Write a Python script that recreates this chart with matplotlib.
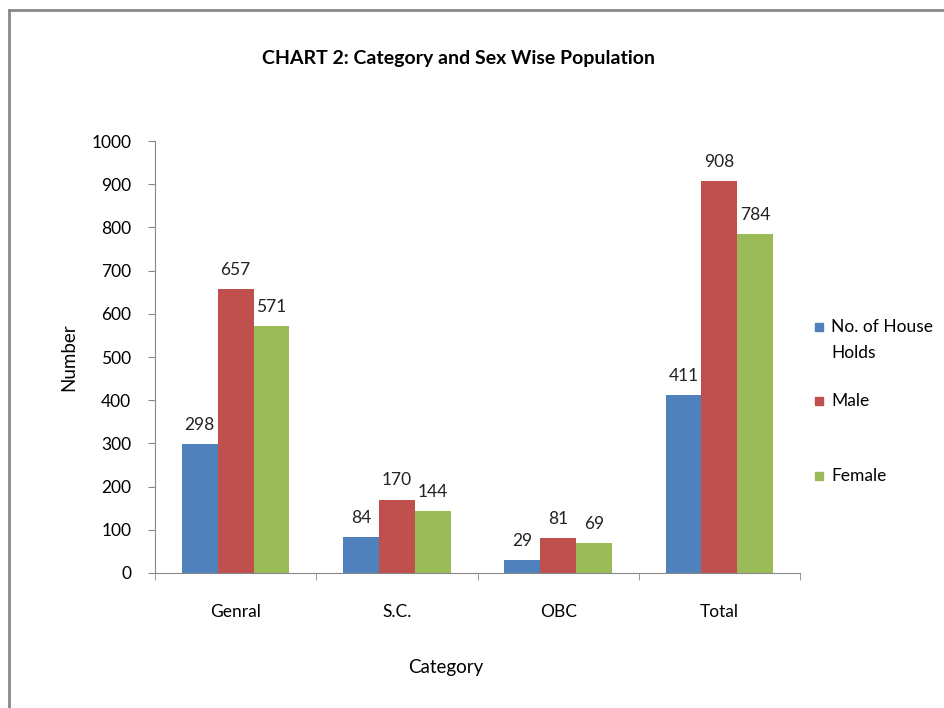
import matplotlib.pyplot as plt
import numpy as np
from matplotlib.lines import Line2D
from matplotlib.patches import Rectangle

categories = ["Genral", "S.C.", "OBC", "Total"]
households = [298, 84, 29, 411]
male = [657, 170, 81, 908]
female = [571, 144, 69, 784]

series = [
    ("No. of House\nHolds", households, "#4f81bd"),
    ("Male", male, "#c0504d"),
    ("Female", female, "#9bbb59"),
]

plt.rcParams["font.family"] = ["Lato", "DejaVu Sans"]

W, H = 945, 708
fig = plt.figure(figsize=(W / 100, H / 100), dpi=100)
ax = fig.add_axes([0.164, 0.1907, 0.6826, 0.6101])

x = np.arange(len(categories))
w = 1 / 4.5
for i, (name, vals, col) in enumerate(series):
    bars = ax.bar(x + (i - 1) * w, vals, width=w, color=col, label=name)
    ax.bar_label(bars, padding=8, fontsize=12.5, color="#222222")

ax.set_xlim(-0.5, len(categories) - 0.5)
ax.set_ylim(0, 1000)
ax.set_yticks(range(0, 1001, 100))
ax.set_xticks(x)
ax.set_xticklabels(categories, fontsize=12.5)
ax.tick_params(axis="x", length=0, pad=22)
ax.tick_params(axis="y", labelsize=12.5, length=5, color="#888888", pad=12)
# category boundary ticks on the x axis
ax.set_xticks(np.arange(-0.5, len(categories)), minor=True)
ax.tick_params(axis="x", which="minor", length=5, color="#888888")

for s in ["top", "right"]:
    ax.spines[s].set_visible(False)
ax.spines["left"].set_color("#888888")
ax.spines["bottom"].set_color("#888888")

ax.set_ylabel("Number", fontsize=13.5)
ax.yaxis.set_label_coords(-0.12, 0.5)
ax.set_xlabel("Category", fontsize=13.5)
ax.xaxis.set_label_coords(0.45, -0.198)
fig.text(0.485, 0.918, "CHART 2: Category and Sex Wise Population",
         ha="center", va="center", fontsize=14, fontweight="bold")

# legend, laid out like the original (entries in equal slots)
legend_y = [327, 401, 476]
for (name, vals, col), ly in zip(series, legend_y):
    fig.add_artist(Rectangle((815 / W, 1 - (ly + 4) / H), 8 / W, 8 / H,
                             color=col, transform=fig.transFigure))
    fig.text(831 / W, 1 - (ly - 8) / H, name, ha="left", va="top",
             fontsize=12.5, linespacing=1.75)

# chart border (left and top edges visible)
fig.add_artist(Line2D([0.009, 0.009], [0, 0.986], color="#888888", lw=2))
fig.add_artist(Line2D([0.009, 1], [0.986, 0.986], color="#888888", lw=2))

fig.savefig("out.png", dpi=100)
